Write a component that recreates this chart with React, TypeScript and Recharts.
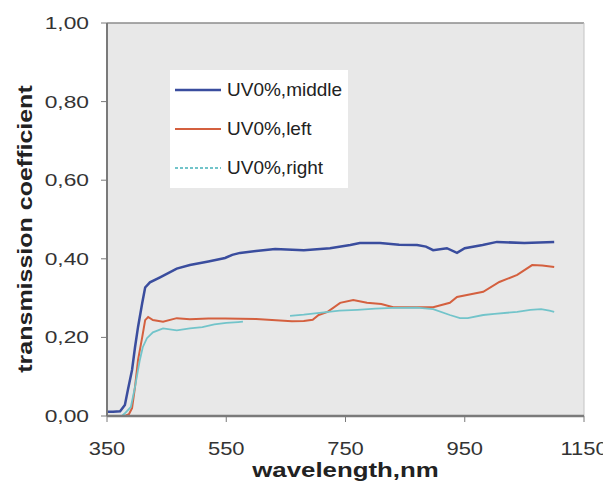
import React from "react";
import {
  LineChart,
  Line,
  XAxis,
  YAxis,
  CartesianGrid,
  Legend,
  ReferenceLine,
  Label,
} from "recharts";

// ---- data ----
const middleNm = [350, 360, 372, 380, 385, 392, 397, 402, 409, 414, 422, 439, 467, 489, 520, 548, 560, 573, 600, 632, 680, 724, 758, 774, 808, 840, 870, 885, 897, 920, 937, 950, 980, 1004, 1050, 1100];
const middleT = [0.011, 0.011, 0.012, 0.028, 0.066, 0.117, 0.175, 0.226, 0.287, 0.327, 0.34, 0.353, 0.375, 0.384, 0.393, 0.402, 0.41, 0.415, 0.42, 0.425, 0.422, 0.427, 0.435, 0.44, 0.44, 0.436, 0.435, 0.431, 0.422, 0.427, 0.415, 0.427, 0.435, 0.443, 0.44, 0.443];

const leftNm = [380, 387, 392, 397, 402, 409, 414, 419, 427, 444, 467, 489, 520, 548, 600, 640, 660, 680, 695, 705, 720, 741, 763, 786, 810, 830, 870, 897, 925, 937, 960, 981, 1008, 1038, 1063, 1080, 1100];
const leftT = [0.0, 0.005, 0.02, 0.074, 0.142, 0.2, 0.244, 0.252, 0.244, 0.24, 0.249, 0.246, 0.248, 0.248, 0.247, 0.243, 0.241, 0.242, 0.245, 0.257, 0.265, 0.288, 0.295, 0.288, 0.285, 0.277, 0.277, 0.277, 0.288, 0.303, 0.31, 0.316, 0.341, 0.359, 0.384, 0.383, 0.379];

const rightNm = [375, 380, 390, 397, 405, 410, 417, 427, 444, 467, 489, 510, 530, 550, 570, 578, 620, 657, 680, 710, 740, 770, 800, 830, 870, 897, 925, 942, 955, 981, 1000, 1038, 1060, 1078, 1092, 1100];
const rightT: (number | null)[] = [0.0, 0.007, 0.023, 0.074, 0.142, 0.175, 0.198, 0.213, 0.223, 0.218, 0.223, 0.226, 0.233, 0.237, 0.239, 0.24, null, 0.255, 0.258, 0.263, 0.268, 0.27, 0.273, 0.275, 0.276, 0.272, 0.257, 0.249, 0.249, 0.257, 0.26, 0.265, 0.27, 0.272, 0.268, 0.265];

const xTicks = [350, 550, 750, 950, 1150];
const yTicks = [0, 0.2, 0.4, 0.6, 0.8, 1.0];

const seriesNames = ["UV0%,middle", "UV0%,left", "UV0%,right"];
const xTitle = "wavelength,nm";
const yTitle = "transmission coefficient";

// ---- build series data ----
const toRows = (nm: number[], t: (number | null)[]) =>
  nm.map((w, i) => ({ nm: w, t: t[i] }));

const series = [
  { name: seriesNames[0], data: toRows(middleNm, middleT), color: "#3a4d9e", width: 2.5, dash: undefined as string | undefined },
  { name: seriesNames[1], data: toRows(leftNm, leftT), color: "#d4603f", width: 2, dash: undefined as string | undefined },
  { name: seriesNames[2], data: toRows(rightNm, rightT), color: "#72c4ca", width: 1.8, dash: "3 2" as string | undefined },
];

const fmtY = (v: number) => v.toFixed(2).replace(".", ",");

const FONT = "'Liberation Sans', Arial, Helvetica, sans-serif";

const YTick = (props: any) => {
  const { x, y, payload } = props;
  return (
    <g transform={`translate(${x},${y})`}>
      <text
        x={0}
        y={0}
        dy="0.36em"
        textAnchor="end"
        fontFamily={FONT}
        fontSize={16.5}
        fill="#333"
        transform="scale(1.38,1)"
      >
        {fmtY(payload.value)}
      </text>
    </g>
  );
};

const XTick = (props: any) => {
  const { x, y, payload } = props;
  return (
    <g transform={`translate(${x},${y})`}>
      <text
        x={0}
        y={0}
        dy="0.71em"
        textAnchor="middle"
        fontFamily={FONT}
        fontSize={18}
        fill="#333"
        transform="scale(1.22,1)"
      >
        {payload.value}
      </text>
    </g>
  );
};

const XTitle = (props: any) => {
  const vb = props.viewBox;
  const cx = vb.x + vb.width / 2;
  const cy = vb.y + 61;
  return (
    <text
      transform={`translate(${cx},${cy}) scale(1.23,1)`}
      textAnchor="middle"
      fontFamily={FONT}
      fontWeight="bold"
      fontSize={21}
      fill="#222"
    >
      {xTitle}
    </text>
  );
};

const YTitle = (props: any) => {
  const vb = props.viewBox;
  const cx = vb.x + 24;
  const cy = vb.y + vb.height / 2 + 9.5;
  return (
    <text
      transform={`translate(${cx},${cy}) rotate(-90) scale(1.19,1)`}
      textAnchor="middle"
      fontFamily={FONT}
      fontWeight="bold"
      fontSize={21}
      fill="#222"
    >
      {yTitle}
    </text>
  );
};

const LegendBox = () => (
  <div
    style={{
      background: "#ffffff",
      width: 178,
      height: 118,
      boxSizing: "border-box",
      fontFamily: FONT,
      fontSize: 19,
      color: "#222",
    }}
  >
    {series.map((s) => (
      <div
        key={s.name}
        style={{ height: 39, display: "flex", alignItems: "center", paddingLeft: 5 }}
      >
        <svg width={46} height={4} style={{ display: "block" }}>
          <line
            x1={0}
            y1={2}
            x2={46}
            y2={2}
            stroke={s.color}
            strokeWidth={s.width}
            strokeDasharray={s.dash}
          />
        </svg>
        <span style={{ marginLeft: 6, whiteSpace: "nowrap", lineHeight: "20px" }}>{s.name}</span>
      </div>
    ))}
  </div>
);

export default function App() {
  return (
    <div style={{ width: 600, height: 488, background: "#ffffff" }}>
      <LineChart
        width={600}
        height={488}
        margin={{ top: 15, right: 24, bottom: 30, left: 0 }}
      >
        <CartesianGrid fill="#e8e8e8" horizontal={false} vertical={false} />
        <XAxis
          dataKey="nm"
          type="number"
          domain={[350, 1150]}
          ticks={xTicks}
          allowDuplicatedCategory={false}
          height={50}
          tickSize={6}
          tickMargin={20}
          tick={<XTick />}
          axisLine={{ stroke: "#7a7a7a", strokeWidth: 2.5 }}
          tickLine={{ stroke: "#7a7a7a" }}
          interval={0}
        >
          <Label content={<XTitle />} />
        </XAxis>
        <YAxis
          type="number"
          domain={[0, 1]}
          ticks={yTicks}
          width={99}
          tickSize={6}
          tickMargin={12}
          tick={<YTick />}
          axisLine={{ stroke: "#7a7a7a", strokeWidth: 2 }}
          tickLine={{ stroke: "#7a7a7a" }}
          interval={0}
        >
          <Label content={<YTitle />} />
        </YAxis>
        <ReferenceLine y={1} stroke="#8c8c8c" strokeWidth={1.5} ifOverflow="visible" />
        <ReferenceLine x={1150} stroke="#c4c4c4" strokeWidth={1} ifOverflow="visible" />
        {series.map((s) => (
          <Line
            key={s.name}
            data={s.data}
            dataKey="t"
            name={s.name}
            type="linear"
            stroke={s.color}
            strokeWidth={s.width}
            dot={false}
            activeDot={false}
            connectNulls={false}
            isAnimationActive={false}
          />
        ))}
        <Legend
          layout="horizontal"
          verticalAlign="middle"
          align="center"
          content={<LegendBox />}
          wrapperStyle={{ left: 162, top: 62, width: 178, height: 118 }}
        />
      </LineChart>
    </div>
  );
}
